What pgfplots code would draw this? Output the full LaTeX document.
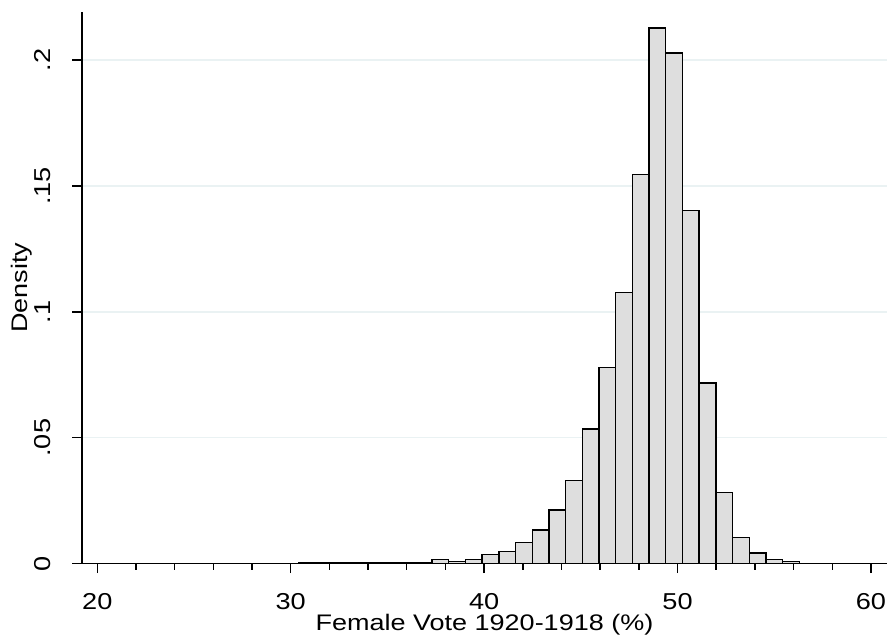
\documentclass[border=0pt]{standalone}
\usepackage{fontspec}
\setmainfont{Liberation Sans}[FakeStretch=1.18]
\newfontfamily\labfont{Liberation Sans}[FakeStretch=1.2]
\usepackage{pgfplots}
\pgfplotsset{compat=1.18}
\definecolor{barfill}{RGB}{222,222,222}
\definecolor{gridc}{RGB}{234,242,243}
\begin{document}
\begin{tikzpicture}
\useasboundingbox (-82pt,-71.3pt) rectangle (805pt,563.7pt);
\begin{axis}[
  at={(0pt,0pt)}, anchor=south west, scale only axis,
  width=805pt, height=551.7pt,
  xmin=19.21, xmax=60.83, ymin=0, ymax=0.219,
  axis x line=bottom, axis y line=left,
  axis line style={-, line width=1.5pt, black},
  xtick={20,30,40,50,60}, xticklabels={20,30,40,50,60},
  minor x tick num=4,
  ytick={0,0.05,0.1,0.15,0.2}, yticklabels={0,.05,.1,.15,.2},
  tick align=outside,
  major tick length=9.5pt, minor tick length=6pt,
  tick style={line width=1.5pt, black},
  ymajorgrids, grid style={gridc, line width=1.5pt},
  ticklabel style={font=\fontsize{23}{27}\selectfont, inner sep=0pt},
  yticklabel style={xshift=-22pt, rotate=90, anchor=base},
  xticklabel style={yshift=-36.3pt, anchor=base},
  label style={font=\labfont\fontsize{22.5}{26}\selectfont, inner sep=0pt},
  xlabel={Female Vote 1920-1918 (\%)},
  ylabel={Density},
  xlabel style={at={(axis description cs:0.5,-0.1211)}, anchor=base},
  ylabel style={at={(axis description cs:-0.0683,0.5)}, anchor=base, rotate=0},
]
\addplot[ybar interval, fill=barfill, draw=black, line width=1.4pt] coordinates {
(22.640,0.00015) (23.503,0) (24.366,0.00015) (25.229,0) (26.092,0)
(26.955,0.00015) (27.818,0) (28.681,0) (29.544,0) (30.407,0.0002)
(31.270,0.0002) (32.133,0.0002) (32.996,0.0002) (33.859,0.0005) (34.722,0.0005)
(35.585,0.0005) (36.448,0.0005) (37.311,0.0017) (38.174,0.0009) (39.037,0.0016)
(39.900,0.0036) (40.763,0.0048) (41.626,0.0083) (42.489,0.0134) (43.352,0.0213)
(44.215,0.0330) (45.078,0.0535) (45.941,0.0778) (46.804,0.1077) (47.667,0.1544)
(48.530,0.2126) (49.393,0.2028) (50.256,0.1402) (51.119,0.0718) (51.982,0.0282)
(52.845,0.0103) (53.708,0.0042) (54.571,0.0016) (55.434,0.0009) (56.297,0)
};
\end{axis}
\end{tikzpicture}
\end{document}
